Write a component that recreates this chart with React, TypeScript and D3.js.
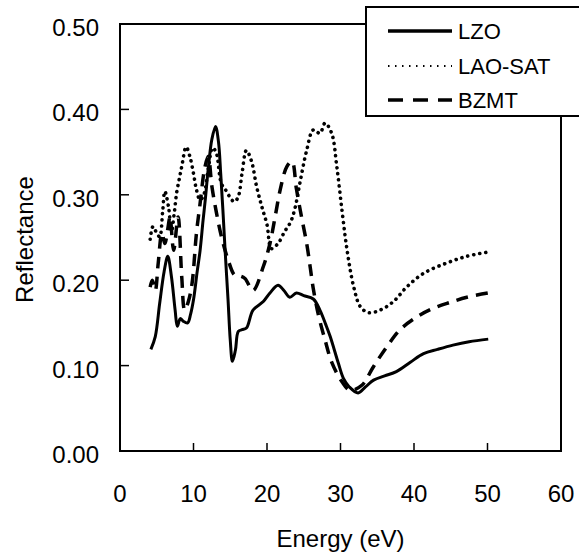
import React, { useEffect } from 'react';
import * as d3 from 'd3';

// series
const lzoEnergy = [4.2, 4.8, 5.4, 6.0, 6.5, 7.0, 7.5, 7.8, 8.2, 8.6, 9.2, 9.6, 10.0, 10.5, 10.9, 11.3, 11.6, 12.0, 12.5, 13.0, 13.4, 13.7, 14.0, 14.3, 14.7, 15.0, 15.3, 15.7, 16.1, 16.6, 17.2, 18.1, 19.5, 20.4, 21.5, 22.3, 23.1, 24.0, 25.0, 26.3, 27.2, 28.0, 28.6, 29.7, 30.4, 31.2, 32.4, 33.4, 34.5, 36.0, 37.6, 39.5, 41.3, 43.2, 45.3, 47.5, 50.1];
const lzoRefl = [0.119, 0.134, 0.173, 0.21, 0.228, 0.204, 0.165, 0.146, 0.155, 0.152, 0.15, 0.16, 0.177, 0.21, 0.235, 0.27, 0.294, 0.33, 0.365, 0.38, 0.362, 0.325, 0.282, 0.235, 0.177, 0.13, 0.105, 0.118, 0.14, 0.142, 0.144, 0.165, 0.175, 0.185, 0.194, 0.188, 0.18, 0.185, 0.182, 0.178, 0.165, 0.148, 0.134, 0.103, 0.085, 0.075, 0.068, 0.075, 0.083, 0.088, 0.093, 0.104, 0.114, 0.119, 0.124, 0.128, 0.131];

const laoEnergy = [4.1, 4.5, 5.0, 5.4, 5.8, 6.1, 6.6, 7.0, 7.4, 7.7, 8.1, 8.4, 9.0, 9.5, 10.0, 10.4, 10.9, 11.4, 12.0, 12.6, 13.1, 13.8, 14.5, 15.2, 15.6, 16.1, 16.6, 17.2, 17.9, 18.6, 19.3, 20.0, 20.6, 21.5, 22.4, 23.2, 23.8, 24.5, 25.4, 26.3, 27.2, 27.9, 28.8, 29.5, 30.2, 30.9, 31.8, 32.7, 33.8, 35.4, 37.2, 39.0, 41.3, 44.4, 47.2, 50.1];
const laoRefl = [0.248, 0.263, 0.255, 0.251, 0.28, 0.304, 0.286, 0.257, 0.28, 0.302, 0.32, 0.333, 0.356, 0.345, 0.325, 0.306, 0.294, 0.3, 0.33, 0.355, 0.349, 0.313, 0.304, 0.294, 0.292, 0.298, 0.325, 0.352, 0.339, 0.309, 0.286, 0.265, 0.237, 0.243, 0.257, 0.268, 0.284, 0.315, 0.352, 0.376, 0.372, 0.384, 0.372, 0.333, 0.282, 0.235, 0.192, 0.169, 0.162, 0.165, 0.175, 0.192, 0.208, 0.22, 0.228, 0.233];

const bzmtEnergy = [4.1, 4.4, 4.8, 5.2, 5.7, 6.1, 6.5, 6.8, 7.3, 7.9, 8.4, 8.8, 9.3, 9.8, 10.4, 10.9, 11.5, 12.0, 12.5, 13.1, 13.8, 14.7, 15.6, 16.3, 17.0, 18.1, 19.5, 20.4, 21.1, 21.8, 22.7, 23.4, 24.0, 24.7, 25.4, 25.9, 26.3, 27.0, 27.9, 28.8, 30.2, 31.3, 32.9, 34.5, 36.3, 38.1, 40.4, 42.6, 44.9, 47.2, 50.1];
const bzmtRefl = [0.192, 0.2, 0.188, 0.22, 0.255, 0.243, 0.26, 0.274, 0.235, 0.274, 0.204, 0.165, 0.175, 0.196, 0.255, 0.29, 0.33, 0.345, 0.31, 0.28, 0.251, 0.224, 0.206, 0.205, 0.202, 0.188, 0.216, 0.243, 0.274, 0.306, 0.333, 0.339, 0.307, 0.274, 0.243, 0.214, 0.19, 0.159, 0.13, 0.104, 0.081, 0.071, 0.077, 0.099, 0.122, 0.142, 0.157, 0.167, 0.174, 0.18, 0.185];

const xTicks = [0, 10, 20, 30, 40, 50, 60];
const yTicks = [0, 0.1, 0.2, 0.3, 0.4, 0.5];
const seriesNames = ['LZO', 'LAO-SAT', 'BZMT'];

const W = 579;
const H = 553;
const font = '"Liberation Sans", Arial, sans-serif';

const App = () => {
  useEffect(() => {
    document.body.style.margin = '0';
  }, []);

  const x = d3.scaleLinear().domain([0, 60]).range([120, 561]);
  const y = d3.scaleLinear().domain([0, 0.5]).range([451, 24]);

  const line = d3
    .line<[number, number]>()
    .x((d) => x(d[0]))
    .y((d) => y(d[1]))
    .curve(d3.curveCatmullRom.alpha(0.5));

  const zip = (a: number[], b: number[]) => a.map((v, i) => [v, b[i]] as [number, number]);

  const series = [
    { name: seriesNames[0], d: line(zip(lzoEnergy, lzoRefl)), width: 3, dash: null, cap: 'butt' },
    { name: seriesNames[1], d: line(zip(laoEnergy, laoRefl)), width: 3.6, dash: '0.1 6', cap: 'round' },
    { name: seriesNames[2], d: line(zip(bzmtEnergy, bzmtRefl)), width: 3.5, dash: '12 8', cap: 'butt' },
  ];

  const legendStyles = [
    { width: 3.5, dash: null },
    { width: 2, dash: '1.5 5.5' },
    { width: 3.5, dash: '15 10' },
  ];
  const legendRows = [31, 66, 100];

  return (
    <svg width={W} height={H} style={{ display: 'block', background: '#fff' }} fontFamily={font}>
      {/* series */}
      <g fill="none" stroke="#000" strokeLinejoin="round">
        {series.map((s) => (
          <path
            key={s.name}
            d={s.d || ''}
            strokeWidth={s.width}
            strokeDasharray={s.dash || undefined}
            strokeLinecap={s.cap as any}
          />
        ))}
      </g>

      {/* frame */}
      <rect x={x(0)} y={y(0.5)} width={x(60) - x(0)} height={y(0) - y(0.5)} fill="none" stroke="#000" strokeWidth={2} />

      {/* ticks, inward */}
      <g stroke="#000" strokeWidth={1.5}>
        {xTicks.slice(1, -1).map((t) => (
          <line key={'xt' + t} x1={x(t)} x2={x(t)} y1={y(0)} y2={y(0) - 8} />
        ))}
        {yTicks.slice(1, -1).map((t) => (
          <line key={'yt' + t} x1={x(0)} x2={x(0) + 9} y1={y(t)} y2={y(t)} />
        ))}
      </g>

      <g fontSize={24} fill="#000">
        {xTicks.map((t) => (
          <text key={'xl' + t} x={x(t)} y={502} textAnchor="middle">
            {t}
          </text>
        ))}
        {yTicks.map((t) => (
          <text key={'yl' + t} x={99} y={y(t) + 12} textAnchor="end">
            {d3.format('.2f')(t)}
          </text>
        ))}
        <text x={(x(0) + x(60)) / 2} y={547} textAnchor="middle">
          Energy (eV)
        </text>
        <text transform={`translate(33,${(y(0) + y(0.5)) / 2 + 2}) rotate(-90)`} textAnchor="middle">
          Reflectance
        </text>
      </g>

      {/* legend */}
      <rect x={366} y={7} width={240} height={109} fill="#fff" stroke="#000" strokeWidth={2} />
      {seriesNames.map((n, i) => (
        <g key={n}>
          <line
            x1={388}
            x2={452}
            y1={legendRows[i]}
            y2={legendRows[i]}
            stroke="#000"
            strokeWidth={legendStyles[i].width}
            strokeDasharray={legendStyles[i].dash || undefined}
          />
          <text x={458} y={legendRows[i]} dy="0.36em" fontSize={22}>
            {n}
          </text>
        </g>
      ))}
    </svg>
  );
};

export default App;
